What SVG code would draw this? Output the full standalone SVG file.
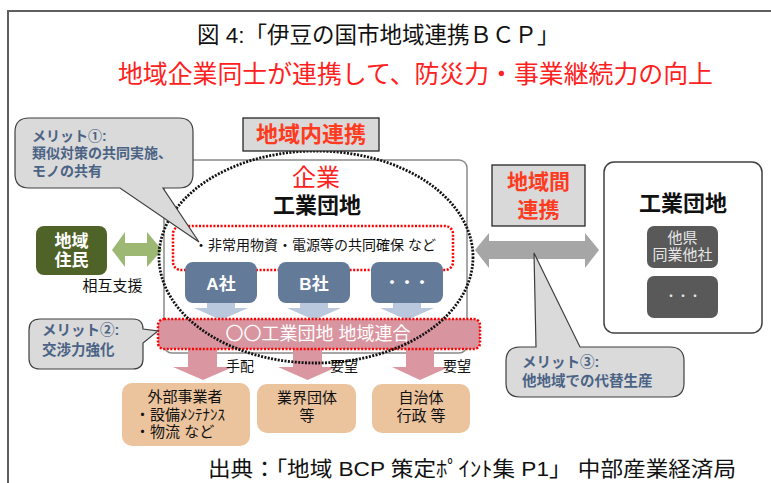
<svg xmlns="http://www.w3.org/2000/svg" width="771" height="483" viewBox="0 0 771 483">
<style>
text{font-family:"Liberation Sans","Noto Sans CJK JP",sans-serif}
.c{text-anchor:middle}
.b{font-weight:bold}
.callout{fill:#dadada;stroke:#3f3f3f;stroke-width:1.2}
.ct{fill:#4a6384;font-size:14.5px;font-weight:bold}
.dotred{fill:none;stroke:#ff0000;stroke-width:2.5;stroke-dasharray:2 1.6}
.cobox{fill:#637a99}
.blarrow{fill:#b9c8dc}
.pkarrow{fill:#da97a2}
.tan{fill:#ebc39d}
.lbl{fill:#d9d9d9;stroke:#262626;stroke-width:1.3}
.red{fill:#ff3b1f}
</style>
<rect x="0" y="0" width="771" height="483" fill="#ffffff"/>
<path d="M8,483 V11 H771" fill="none" stroke="#5f5f5f" stroke-width="2"/>
<text x="197" y="43" font-size="22.5" fill="#111">図 4:「伊豆の国市地域連携ＢＣＰ」</text>
<text x="118" y="83" font-size="24.5" fill="#ff2020" textLength="595" lengthAdjust="spacingAndGlyphs">地域企業同士が連携して、防災力・事業継続力の向上</text>

<g id="park-main">
<rect x="164" y="160" width="303" height="193" rx="8" fill="#ffffff" stroke="#8a8a8a" stroke-width="1.5"/>
<text x="316" y="186" class="c" font-size="24" fill="#ff2020">企業</text>
<text x="317" y="213" class="c b" font-size="22" fill="#111">工業団地</text>
</g>

<g id="park-other">
<rect x="604" y="162" width="158" height="171" rx="10" fill="#ffffff" stroke="#404040" stroke-width="1.5"/>
<text x="683" y="211" class="c b" font-size="22" fill="#111">工業団地</text>
<rect x="647" y="226" width="71" height="42" rx="7" fill="#595959"/>
<text x="682.5" y="243" class="c" font-size="15" fill="#e6e6e6">他県</text>
<text x="682.5" y="260" class="c" font-size="15" fill="#e6e6e6">同業他社</text>
<rect x="647" y="276" width="71" height="42" rx="7" fill="#595959"/>
<text x="683" y="301" class="c" font-size="12" fill="#e6e6e6">・・・</text>
</g>

<g id="connectors">
<path d="M475,250 L489,233 V241 H585 V233 L599,250 L585,268 V259 H489 V268 Z" fill="#a6a6a6"/>
<path d="M112,250 L125,232 V243 H147 V232 L162,250 L147,267 V256 H125 V267 Z" fill="#9cb872"/>
<path class="blarrow" d="M207,297 H235 V308 H248 L221,320 L194,308 H207 Z"/>
<path class="blarrow" d="M300,297 H328 V308 H341 L314,320 L287,308 H300 Z"/>
<path class="blarrow" d="M393,297 H421 V308 H434 L407,320 L380,308 H393 Z"/>
<path class="pkarrow" d="M188,349 H217 V367 H233 L203,380 L173,367 H188 Z"/>
<path class="pkarrow" d="M293,349 H322 V367 H337 L307.5,380 L278,367 H293 Z"/>
<path class="pkarrow" d="M406,349 H434 V367 H449 L420,380 L392,367 H406 Z"/>
<text x="240" y="371" class="c" font-size="14" fill="#111">手配</text>
<text x="344" y="371" class="c" font-size="14" fill="#111">要望</text>
<text x="457" y="371" class="c" font-size="14" fill="#111">要望</text>
<text x="112.5" y="291" class="c" font-size="15" fill="#111">相互支援</text>
</g>

<g id="shared">
<rect x="173" y="226" width="280" height="44" rx="8" fill="#ffffff" class="dotred"/>
<text x="315" y="250" class="c" font-size="14" fill="#111">・非常用物資・電源等の共同確保 など</text>
</g>

<g id="company-a">
<rect x="185" y="262" width="72" height="41" rx="8" class="cobox"/>
<text x="221" y="290" class="c b" font-size="17" fill="#ffffff">A社</text>
</g>
<g id="company-b">
<rect x="278" y="262" width="72" height="41" rx="8" class="cobox"/>
<text x="314" y="290" class="c b" font-size="17" fill="#ffffff">B社</text>
</g>
<g id="company-etc">
<rect x="371" y="262" width="72" height="41" rx="8" class="cobox"/>
<text x="407" y="288" class="c b" font-size="15" fill="#ffffff">・・・</text>
</g>

<g id="union">
<rect x="158" y="319" width="322" height="30" rx="6" fill="#d9959f"/>
<rect x="158" y="319" width="322" height="30" rx="6" class="dotred"/>
<text x="318" y="340" class="c" font-size="18" fill="#ffffff">〇〇工業団地 地域連合</text>
</g>

<g id="region-ellipse">
<ellipse cx="316" cy="257" rx="157" ry="106" fill="none" stroke="#111" stroke-width="2.8" stroke-dasharray="2 1.4"/>
</g>

<g id="residents">
<rect x="36" y="226" width="71" height="49" rx="8" fill="#4f6228"/>
<text x="71.5" y="247" class="c b" font-size="17" fill="#ffffff">地域</text>
<text x="71.5" y="266" class="c b" font-size="17" fill="#ffffff">住民</text>
</g>

<g id="contractors">
<rect x="122" y="383" width="128" height="63" rx="10" class="tan"/>
<text x="185" y="402" class="c" font-size="15" fill="#111">外部事業者</text>
<text x="135" y="420" font-size="15" fill="#111">・設備ﾒﾝﾃﾅﾝｽ</text>
<text x="135" y="437" font-size="15" fill="#111">・物流 など</text>
</g>
<g id="industry-groups">
<rect x="257" y="384" width="99" height="49" rx="10" class="tan"/>
<text x="307" y="403" class="c" font-size="15" fill="#111">業界団体</text>
<text x="307" y="421" class="c" font-size="15" fill="#111">等</text>
</g>
<g id="government">
<rect x="372" y="384" width="98" height="49" rx="10" class="tan"/>
<text x="421" y="403" class="c" font-size="15" fill="#111">自治体</text>
<text x="421" y="421" class="c" font-size="15" fill="#111">行政 等</text>
</g>

<g id="merit-1">
<path class="callout" d="M29,118 H179 Q193,118 193,132 V174 Q193,188 179,188 H163 L199,242 L120,188 H29 Q15,188 15,174 V132 Q15,118 29,118 Z"/>
<text x="32" y="141" class="ct" style="font-size:14px">メリット①:</text>
<text x="32" y="158" class="ct" style="font-size:14px">類似対策の共同実施、</text>
<text x="32" y="176" class="ct" style="font-size:14px">モノの共有</text>
</g>
<g id="merit-2">
<path class="callout" d="M40,319 H133 Q143,319 143,329 L158,331 L143,343 V359 Q143,369 133,369 H40 Q29,369 29,358 V330 Q29,319 40,319 Z"/>
<text x="42" y="335" class="ct">メリット②:</text>
<text x="42" y="355" class="ct">交渉力強化</text>
</g>
<g id="merit-3">
<path class="callout" d="M520,347 H536 L534,253 L580,347 H670 Q684,347 684,361 V383 Q684,397 670,397 H520 Q506,397 506,383 V361 Q506,347 520,347 Z"/>
<text x="522" y="367" class="ct">メリット③:</text>
<text x="522" y="386" class="ct">他地域での代替生産</text>
</g>

<g id="label-intra">
<rect x="243" y="118" width="136" height="33" class="lbl"/>
<text x="311" y="142" class="c b red" font-size="22">地域内連携</text>
</g>
<g id="label-inter">
<rect x="492" y="165" width="93" height="61" class="lbl"/>
<text x="538.5" y="189" class="c b red" font-size="21">地域間</text>
<text x="538.5" y="217" class="c b red" font-size="21">連携</text>
</g>

<text x="208" y="476" font-size="21" fill="#111" textLength="528" lengthAdjust="spacingAndGlyphs">出典：「地域 BCP 策定ﾎﾟｲﾝﾄ集 P1」 中部産業経済局</text>
</svg>
